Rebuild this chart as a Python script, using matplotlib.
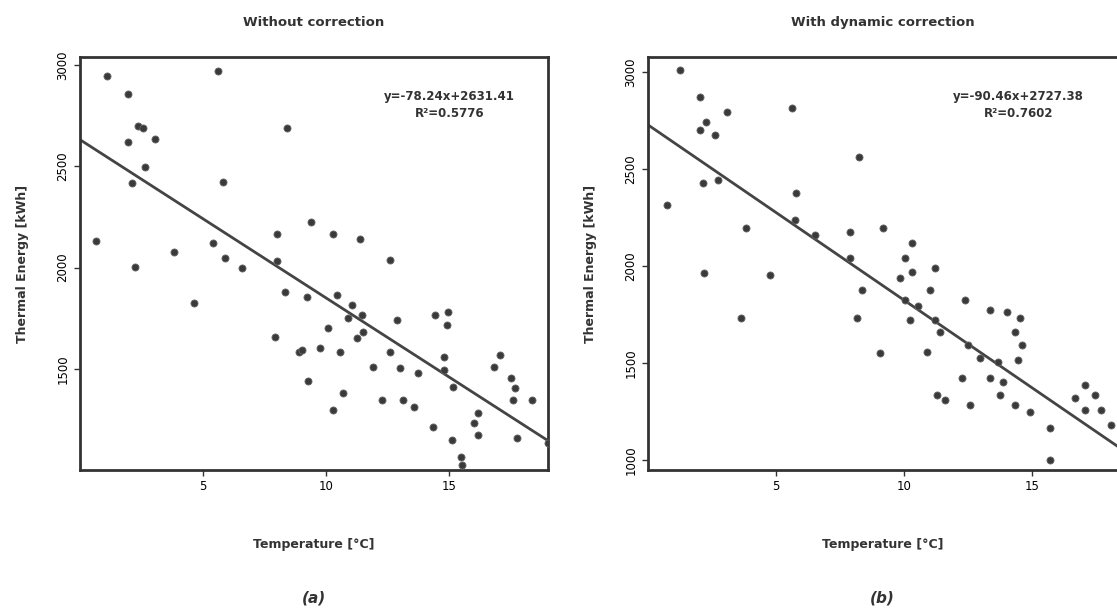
import matplotlib
matplotlib.use("Agg")
import matplotlib.pyplot as plt
import numpy as np

# (a) without correction: temperature [°C] vs thermal energy [kWh]
temp_a = [1.1, 5.6, 1.95, 2.36, 2.56, 8.41, 1.95, 3.05, 2.64, 2.11, 5.81, 9.39, 8.0, 0.65,
          5.4, 3.82, 5.9, 8.0, 2.24, 6.59, 10.28, 11.38, 12.6, 8.33, 9.23, 4.63, 7.93, 8.9,
          9.27, 10.45, 11.06, 11.46, 10.89, 12.89, 14.43, 14.96, 14.92, 10.08, 11.26, 11.5,
          9.76, 9.02, 10.57, 12.6, 14.76, 13.01, 13.74, 11.91, 14.76, 17.07, 16.79, 17.48,
          17.68, 17.56, 18.37, 15.16, 10.69, 12.28, 13.13, 13.54, 10.28, 16.14, 15.98, 14.35,
          16.14, 15.12, 17.76, 15.45, 18.98, 15.5]
energy_a = [2946, 2970, 2857, 2699, 2689, 2689, 2620, 2634, 2496, 2417, 2422, 2225, 2165, 2131,
            2121, 2076, 2047, 2032, 2002, 1997, 2165, 2141, 2037, 1879, 1854, 1825, 1657, 1583,
            1439, 1864, 1815, 1765, 1751, 1741, 1765, 1780, 1716, 1701, 1652, 1681,
            1602, 1593, 1583, 1583, 1558, 1504, 1479, 1509, 1494, 1568, 1509, 1454,
            1405, 1346, 1346, 1410, 1380, 1346, 1346, 1311, 1296, 1281, 1232, 1212,
            1173, 1148, 1158, 1064, 1133, 1025]
fit_a = (-78.24, 2631.41)
r2_a = 0.5776

# (b) with dynamic correction
temp_b = [1.25, 2.03, 3.09, 5.63, 2.27, 2.03, 2.62, 8.24, 2.15, 2.73, 0.74, 5.78, 5.74, 3.83,
          7.89, 6.52, 7.89, 9.18, 10.31, 10.04, 2.19, 4.77, 3.63, 8.36, 8.16, 9.06, 9.84,
          10.31, 11.21, 11.02, 10.04, 10.55, 11.21, 10.23, 11.41, 10.9, 12.38, 13.36, 14.02,
          14.53, 14.34, 14.61, 12.5, 12.97, 13.67, 14.45, 12.27, 13.36, 13.87, 11.6, 11.29,
          12.58, 13.75, 14.34, 14.92, 15.7, 15.7, 16.68, 17.07, 17.46, 17.66, 18.05, 17.07]
energy_b = [3010, 2871, 2794, 2815, 2742, 2701, 2675, 2562, 2428, 2443, 2315, 2376, 2237, 2196,
            2175, 2160, 2041, 2196, 2119, 2041, 1964, 1954, 1732, 1876, 1732, 1552, 1938,
            1969, 1990, 1876, 1825, 1794, 1722, 1722, 1660, 1557, 1825, 1773, 1763,
            1732, 1660, 1593, 1593, 1526, 1505, 1516, 1423, 1423, 1402, 1309, 1335,
            1284, 1335, 1284, 1247, 1165, 1000, 1320, 1387, 1335, 1258, 1180, 1258]
fit_b = (-90.46, 2727.38)
r2_b = 0.7602

fig = plt.figure(figsize=(11.17, 6.11), dpi=100)
ax1 = fig.add_axes([0.0716, 0.2308, 0.419, 0.676])
ax2 = fig.add_axes([0.580, 0.2308, 0.42, 0.676])

panels = [
    (ax1, temp_a, energy_a, fit_a, r2_a, "Without correction", "(a)", (0, 19), (1000, 3040),
     [1500, 2000, 2500, 3000]),
    (ax2, temp_b, energy_b, fit_b, r2_b, "With dynamic correction", "(b)", (0, 18.3), (948, 3077),
     [1000, 1500, 2000, 2500, 3000]),
]

for ax, xs, ys, fit, r2, title, tag, xl, yl, yt in panels:
    ax.scatter(xs, ys, s=26, color='#3a3a3a', edgecolors='#666666', linewidths=0.6, zorder=3)
    xx = np.array(xl)
    ax.plot(xx, fit[0] * xx + fit[1], color='#444444', lw=2, zorder=2)
    ax.set_xlim(xl)
    ax.set_ylim(yl)
    ax.set_xticks([5, 10, 15])
    ax.set_yticks(yt)
    ax.set_yticklabels([str(v) for v in yt], rotation=90, va='center')
    ax.tick_params(labelsize=8.5, length=4, width=1, color='#333333')
    for sp in ax.spines.values():
        sp.set_linewidth(2)
        sp.set_color('#333333')
    ax.set_title(title, fontsize=9.5, fontweight='bold', color='#333333', pad=22)
    ax.set_xlabel("Temperature [°C]", fontsize=9, fontweight='bold', color='#333333', labelpad=32)
    ax.set_ylabel("Thermal Energy [kWh]", fontsize=9, fontweight='bold', color='#333333', labelpad=20)
    sign = '+' if fit[1] >= 0 else '-'
    ax.text(0.93, 0.92, f"y={fit[0]:.2f}x{sign}{abs(fit[1]):.2f}\nR²={r2:.4f}",
            transform=ax.transAxes, ha='right', va='top', fontsize=8.5,
            fontweight='bold', color='#333333', linespacing=1.4, multialignment='center')
    ax.text(0.5, -0.31, tag, transform=ax.transAxes, ha='center', va='center', fontsize=11,
            style='italic', fontweight='bold', color='#333333')

ax2.spines['right'].set_visible(False)

fig.savefig("out.png", dpi=100)
